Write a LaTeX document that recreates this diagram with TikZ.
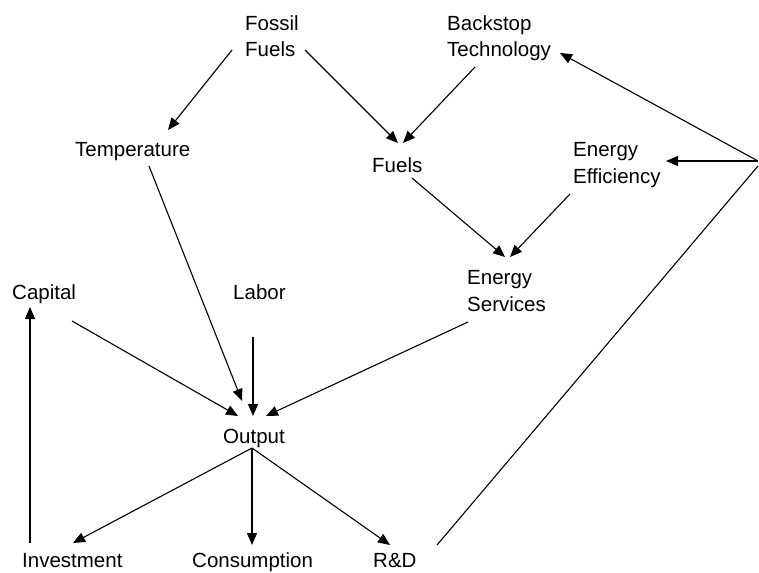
\documentclass[tikz,border=0pt]{standalone}
\usepackage{fontspec}
\setmainfont{Liberation Sans}
\usetikzlibrary{arrows.meta}
\begin{document}
\begin{tikzpicture}[x=1pt,y=-1pt,
  lbl/.style={anchor=base west,inner sep=0pt,align=left,font=\fontsize{20.5}{26.5}\selectfont},
  arr/.style={line width=1.1pt,-{Triangle[length=12pt,width=10pt]}},
  ln/.style={line width=1.1pt}]
\useasboundingbox[fill=white] (0,0) rectangle (759,572);
% nodes (multi-line nodes: base = baseline of last line)
\node[lbl] (fossil) at (245,57) {Fossil\\Fuels};
\node[lbl] (back) at (447,57) {Backstop\\Technology};
\node[lbl] (temp) at (75,157) {Temperature};
\node[lbl] (fuels) at (372,172) {Fuels};
\node[lbl] (ee) at (573,183) {Energy\\Efficiency};
\node[lbl] (es) at (467,311) {Energy\\Services};
\node[lbl] (cap) at (12,299) {Capital};
\node[lbl] (lab) at (233,299) {Labor};
\node[lbl] (out) at (223,443) {Output};
\node[lbl] (inv) at (22,567) {Investment};
\node[lbl] (cons) at (192,567) {Consumption};
\node[lbl] (rd) at (373,567) {R\&D};
% connector end points
\coordinate (hub) at (758,161);
\coordinate (ffA) at (232,50);  \coordinate (tempT) at (168,130);
\coordinate (ffB) at (305,50);  \coordinate (fuelT1) at (398,143);
\coordinate (bsS) at (475,67);  \coordinate (fuelT2) at (403,143);
\coordinate (bsT) at (560,53);  \coordinate (eeT) at (666,161);
\coordinate (rdS) at (437,545); \coordinate (hubB) at (758,166);
\coordinate (fuelS) at (412,178); \coordinate (esT1) at (505,257);
\coordinate (eeS) at (570,194); \coordinate (esT2) at (510,257);
\coordinate (tempS) at (149,166); \coordinate (outT1) at (242,401);
\coordinate (capS) at (72,321); \coordinate (outT2) at (238,416);
\coordinate (labS) at (253,337); \coordinate (outT3) at (253,416);
\coordinate (esS) at (468,322); \coordinate (outT4) at (266,416);
\coordinate (outS) at (252,448);
\coordinate (invT) at (73,543); \coordinate (consT) at (252,545); \coordinate (rdT) at (390,545);
\coordinate (invS) at (30,543); \coordinate (capT) at (30,307);
% connectors
\draw[arr] (ffA) -- (tempT);
\draw[arr] (ffB) -- (fuelT1);
\draw[arr] (bsS) -- (fuelT2);
\draw[arr] (hub) -- (bsT);
\draw[arr] (hub) -- (eeT);
\draw[ln] (rdS) -- (hubB);
\draw[arr] (fuelS) -- (esT1);
\draw[arr] (eeS) -- (esT2);
\draw[arr] (tempS) -- (outT1);
\draw[arr] (capS) -- (outT2);
\draw[arr] (labS) -- (outT3);
\draw[arr] (esS) -- (outT4);
\draw[arr] (outS) -- (invT);
\draw[arr] (outS) -- (consT);
\draw[arr] (outS) -- (rdT);
\draw[arr] (invS) -- (capT);
\end{tikzpicture}
\end{document}
